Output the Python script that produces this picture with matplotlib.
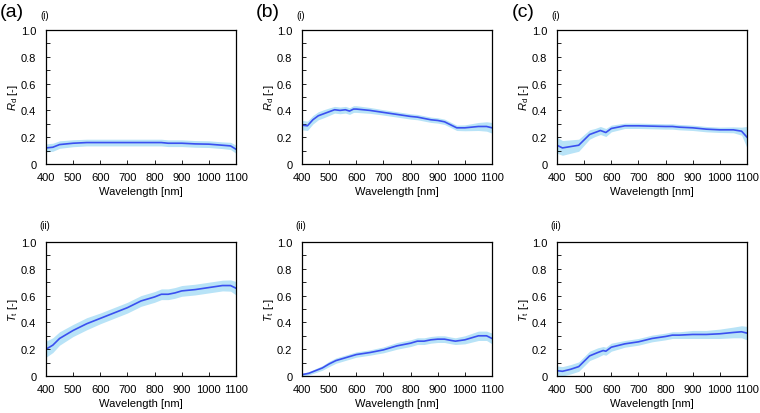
import numpy as np
import matplotlib
matplotlib.use("Agg")
import matplotlib.pyplot as plt

plt.rcParams["font.family"] = ["Liberation Sans", "DejaVu Sans"]
plt.rcParams["mathtext.fontset"] = "custom"
plt.rcParams["mathtext.rm"] = "Liberation Sans"
plt.rcParams["mathtext.it"] = "Liberation Sans:italic"

# (a) Rd
a_rd_wl = [400, 425, 450, 475, 500, 550, 600, 700, 800, 825, 850, 900, 950, 1000, 1050, 1080, 1100]
a_rd = [0.12, 0.125, 0.145, 0.15, 0.155, 0.16, 0.16, 0.16, 0.16, 0.16, 0.155, 0.155, 0.15, 0.148, 0.14, 0.135, 0.11]
a_rd_sd = [0.03, 0.03, 0.028, 0.027, 0.026, 0.025, 0.025, 0.025, 0.025, 0.025, 0.025, 0.025, 0.025, 0.025, 0.025, 0.027, 0.03]

# (a) Tt
a_tt_wl = [400, 425, 450, 500, 550, 600, 650, 700, 750, 800, 825, 850, 875, 900, 950, 1000, 1050, 1080, 1100]
a_tt = [0.20, 0.23, 0.28, 0.34, 0.39, 0.43, 0.47, 0.51, 0.56, 0.59, 0.61, 0.61, 0.62, 0.635, 0.645, 0.66, 0.675, 0.675, 0.655]
a_tt_sd = [0.06, 0.055, 0.05, 0.045, 0.045, 0.04, 0.04, 0.04, 0.04, 0.04, 0.04, 0.04, 0.04, 0.04, 0.04, 0.04, 0.04, 0.042, 0.05]

# (b) Rd
b_rd_wl = [400, 420, 440, 460, 480, 500, 520, 540, 560, 575, 590, 600, 650, 700, 750, 800, 825, 850, 875, 900, 925, 950, 970, 1000, 1050, 1080, 1100]
b_rd = [0.29, 0.285, 0.33, 0.36, 0.375, 0.39, 0.405, 0.40, 0.405, 0.395, 0.41, 0.41, 0.40, 0.385, 0.37, 0.355, 0.35, 0.34, 0.33, 0.325, 0.315, 0.29, 0.27, 0.27, 0.28, 0.28, 0.27]
b_rd_sd = [0.035, 0.035, 0.032, 0.03, 0.03, 0.028, 0.025, 0.025, 0.025, 0.025, 0.025, 0.025, 0.022, 0.02, 0.02, 0.02, 0.02, 0.02, 0.02, 0.02, 0.02, 0.02, 0.02, 0.022, 0.03, 0.035, 0.04]

# (b) Tt
b_tt_wl = [400, 425, 450, 475, 500, 525, 550, 575, 600, 650, 700, 750, 800, 825, 850, 875, 900, 925, 950, 965, 1000, 1050, 1080, 1100]
b_tt = [0.01, 0.02, 0.04, 0.06, 0.09, 0.115, 0.13, 0.145, 0.16, 0.175, 0.195, 0.225, 0.245, 0.26, 0.26, 0.27, 0.275, 0.275, 0.265, 0.26, 0.27, 0.30, 0.30, 0.28]
b_tt_sd = [0.01, 0.012, 0.015, 0.017, 0.02, 0.02, 0.02, 0.02, 0.02, 0.02, 0.022, 0.025, 0.025, 0.025, 0.025, 0.025, 0.025, 0.025, 0.025, 0.025, 0.03, 0.035, 0.035, 0.04]

# (c) Rd
c_rd_wl = [400, 420, 450, 480, 500, 520, 540, 560, 580, 600, 650, 700, 800, 825, 850, 900, 950, 1000, 1050, 1080, 1100]
c_rd = [0.14, 0.12, 0.13, 0.14, 0.18, 0.22, 0.235, 0.25, 0.235, 0.265, 0.285, 0.285, 0.28, 0.28, 0.275, 0.27, 0.26, 0.255, 0.255, 0.245, 0.20]
c_rd_sd = [0.06, 0.055, 0.05, 0.045, 0.04, 0.035, 0.03, 0.03, 0.03, 0.025, 0.02, 0.02, 0.02, 0.02, 0.02, 0.02, 0.02, 0.02, 0.022, 0.03, 0.08]

# (c) Tt
c_tt_wl = [400, 420, 450, 480, 500, 520, 550, 570, 580, 600, 650, 700, 750, 800, 825, 850, 900, 950, 1000, 1050, 1080, 1100]
c_tt = [0.04, 0.035, 0.05, 0.07, 0.11, 0.15, 0.175, 0.19, 0.185, 0.215, 0.24, 0.255, 0.28, 0.295, 0.305, 0.305, 0.31, 0.31, 0.315, 0.325, 0.33, 0.32]
c_tt_sd = [0.035, 0.035, 0.035, 0.035, 0.035, 0.035, 0.035, 0.03, 0.03, 0.03, 0.025, 0.025, 0.025, 0.025, 0.025, 0.025, 0.03, 0.03, 0.035, 0.04, 0.045, 0.05]

panels = [
    ("(a)", a_rd_wl, a_rd, a_rd_sd, a_tt_wl, a_tt, a_tt_sd),
    ("(b)", b_rd_wl, b_rd, b_rd_sd, b_tt_wl, b_tt, b_tt_sd),
    ("(c)", c_rd_wl, c_rd, c_rd_sd, c_tt_wl, c_tt, c_tt_sd),
]

line_col = "#3a50f0"
band_col = "#b8e3f7"

fig = plt.figure(figsize=(7.6, 4.14), dpi=100)
lefts = [46, 302, 557]
W, H = 760, 414


def draw(ax, wl, y, sd, ylabel, sub, suby):
    wl = np.array(wl)
    y = np.array(y)
    sd = np.array(sd)
    ax.fill_between(wl, y - sd, y + sd, color=band_col, lw=0)
    ax.plot(wl, y, color=line_col, lw=1.2)
    ax.set_xlim(400, 1100)
    ax.set_ylim(0, 1.0)
    ax.set_xticks(range(400, 1101, 100))
    ax.set_yticks([0, 0.2, 0.4, 0.6, 0.8, 1.0])
    ax.set_yticklabels(["0", "0.2", "0.4", "0.6", "0.8", "1.0"])
    ax.set_yticks(np.arange(0.1, 1.0, 0.2), minor=True)
    ax.tick_params(direction="in", length=3, width=0.6, labelsize=8, pad=6)
    ax.tick_params(axis="y", pad=7)
    ax.tick_params(which="minor", direction="in", length=3, width=0.6)
    ax.set_xlabel("Wavelength [nm]", fontsize=8, labelpad=3)
    ax.set_ylabel(ylabel, fontsize=8, labelpad=1)
    for s in ax.spines.values():
        s.set_linewidth(0.9)
    ax.text(-0.005, suby, sub, transform=ax.transAxes, fontsize=7, ha="center", va="center")


for i, (lab, w1, r1, s1, w2, t2, s2) in enumerate(panels):
    l = lefts[i] / W
    ax1 = fig.add_axes([l, (414 - 165) / H, 190 / W, 134 / H])
    draw(ax1, w1, r1, s1, r"$R_{\mathrm{d}}$ [-]", "(i)", 1.115)
    ax2 = fig.add_axes([l, (414 - 377) / H, 190 / W, 134 / H])
    draw(ax2, w2, t2, s2, r"$T_{\mathrm{t}}$ [-]", "(ii)", 1.125)
    ax1.text(-0.18, 1.14, lab, transform=ax1.transAxes, fontsize=14, ha="center", va="center")

fig.savefig("out.png", dpi=100)
